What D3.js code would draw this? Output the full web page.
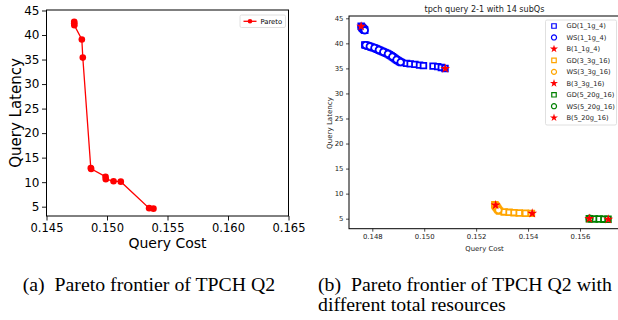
<!DOCTYPE html>
<html>
<head>
<meta charset="utf-8">
<script src="https://cdn.jsdelivr.net/npm/d3@7"></script>
<style>
  html, body { margin: 0; padding: 0; background: #fff; }
  svg { display: block; }
</style>
</head>
<body>
<div id="chart"></div>
<script>
// (a) Pareto frontier
const paretoCost = [0.14729, 0.14729, 0.14730, 0.14792, 0.14800, 0.14866, 0.14869, 0.14988, 0.14990, 0.15054, 0.15114, 0.15348, 0.15384];
const paretoLatency = [42.7, 42.4, 42.0, 39.1, 35.4, 12.9, 12.7, 11.1, 10.6, 10.2, 10.1, 4.7, 4.6];
const leftXTicks = [0.145, 0.150, 0.155, 0.160, 0.165];
const leftYTicks = [5, 10, 15, 20, 25, 30, 35, 40, 45];

// (b) different total resources: [cost, latency]
const gd1 = [[0.14757, 43.4], [0.14759, 43.25], [0.14761, 43.1], [0.14763, 43.0], [0.14765, 42.9], [0.14767, 42.8], [0.14769, 42.7], [0.14771, 42.6],
  [0.14771, 39.7], [0.14775, 39.65], [0.14778, 39.6], [0.14782, 39.5], [0.14786, 39.45], [0.14790, 39.4], [0.14794, 39.3], [0.14798, 39.25],
  [0.14803, 39.15], [0.14807, 39.1], [0.14812, 39.0], [0.14816, 38.9], [0.14820, 38.8], [0.14825, 38.7], [0.14829, 38.6], [0.14833, 38.5],
  [0.14838, 38.4], [0.14842, 38.3], [0.14847, 38.2], [0.14851, 38.1], [0.14856, 38.0], [0.14860, 37.9], [0.14865, 37.75], [0.14869, 37.6],
  [0.14873, 37.5], [0.14877, 37.35], [0.14881, 37.2], [0.14885, 37.05], [0.14889, 36.9], [0.14893, 36.75], [0.14897, 36.6], [0.14901, 36.5],
  [0.14905, 36.35], [0.14909, 36.25], [0.14913, 36.15],
  [0.14932, 36.0], [0.14946, 35.9], [0.14964, 35.8], [0.14982, 35.65], [0.14997, 35.55],
  [0.15034, 35.45], [0.15052, 35.35], [0.15066, 35.2], [0.15080, 35.0]];
const ws1 = [[0.14758, 43.3], [0.14765, 42.9], [0.14771, 42.6], [0.14774, 39.65], [0.14790, 39.4],
  [0.14808, 39.1], [0.14825, 38.7], [0.14842, 38.3], [0.14860, 37.9], [0.14877, 37.35], [0.14893, 36.75], [0.14909, 36.25]];
const b1 = [[0.14757, 43.4], [0.15081, 34.95]];
const gd3 = [[0.15272, 7.8], [0.15274, 7.65], [0.15275, 7.55], [0.15277, 7.45], [0.15278, 7.35], [0.15280, 7.2], [0.15282, 7.05], [0.15284, 6.9], [0.15286, 6.75],
  [0.15290, 6.55], [0.15308, 6.35], [0.15327, 6.27], [0.15346, 6.2], [0.15366, 6.14], [0.15390, 6.08], [0.15413, 6.06]];
const ws3 = [[0.15273, 7.7], [0.15279, 7.3], [0.15286, 6.7]];
const b3 = [[0.15275, 7.7], [0.15416, 6.05]];
const gd5 = [[0.15636, 5.0], [0.15655, 4.95], [0.15674, 4.93], [0.15692, 4.9], [0.15708, 4.88]];
const ws5 = [[0.15637, 5.0]];
const b5 = [[0.15636, 5.0], [0.15709, 4.87]];
const rightXTicks = [0.148, 0.150, 0.152, 0.154, 0.156];
const rightYTicks = [5, 10, 15, 20, 25, 30, 35, 40, 45];
const legendLabels = ['GD(1_1g_4)', 'WS(1_1g_4)', 'B(1_1g_4)', 'GD(3_3g_16)', 'WS(3_3g_16)', 'B(3_3g_16)', 'GD(5_20g_16)', 'WS(5_20g_16)', 'B(5_20g_16)'];

const svg = d3.select('#chart').append('svg')
  .attr('width', 618).attr('height', 320);

const font = 'DejaVu Sans, sans-serif';

// ---------- left chart ----------
const lx = d3.scaleLinear().domain([0.145, 0.165]).range([46.5, 288.5]);
const ly = d3.scaleLinear().domain([3.1, 45.1]).range([216, 10]);

const left = svg.append('g');

left.append('g')
  .attr('transform', 'translate(0,216)')
  .call(d3.axisBottom(lx).tickValues(leftXTicks).tickFormat(d3.format('.3f')).tickSize(4.5).tickPadding(3))
  .call(g => g.select('.domain').remove())
  .call(g => g.selectAll('.tick line').attr('stroke', '#000').attr('stroke-width', 0.9))
  .call(g => g.selectAll('.tick text').attr('fill', '#000').style('font-family', font).style('font-size', '11.5px'));

left.append('g')
  .attr('transform', 'translate(46.5,0)')
  .call(d3.axisLeft(ly).tickValues(leftYTicks).tickSize(4.5).tickPadding(2.5))
  .call(g => g.select('.domain').remove())
  .call(g => g.selectAll('.tick line').attr('stroke', '#000').attr('stroke-width', 0.9))
  .call(g => g.selectAll('.tick text').attr('fill', '#000').style('font-family', font).style('font-size', '12px'));

left.append('rect')
  .attr('x', 46.5).attr('y', 10).attr('width', 242).attr('height', 206)
  .attr('fill', 'none').attr('stroke', '#000').attr('stroke-width', 1);

const pareto = paretoCost.map((c, i) => ({ c, l: paretoLatency[i] }));

left.append('path').datum(pareto)
  .attr('fill', 'none').attr('stroke', '#ff0000').attr('stroke-width', 1.3)
  .attr('d', d3.line().x(d => lx(d.c)).y(d => ly(d.l)));

left.selectAll('.pt').data(pareto).enter().append('circle')
  .attr('cx', d => lx(d.c)).attr('cy', d => ly(d.l)).attr('r', 3.3)
  .attr('fill', '#ff0000');

left.append('text')
  .attr('x', 167.5).attr('y', 248).attr('text-anchor', 'middle')
  .style('font-family', font).style('font-size', '14px')
  .text('Query Cost');

left.append('text')
  .attr('transform', 'translate(21,113) rotate(-90)').attr('text-anchor', 'middle')
  .style('font-family', font).style('font-size', '15px')
  .text('Query Latency');

const lleg = left.append('g').attr('transform', 'translate(240,15)');
lleg.append('rect').attr('width', 45.5).attr('height', 12.5).attr('rx', 1.5)
  .attr('fill', '#fff').attr('stroke', '#d8d8d8').attr('stroke-width', 0.8);
lleg.append('line').attr('x1', 3.5).attr('x2', 16.5).attr('y1', 6.3).attr('y2', 6.3)
  .attr('stroke', '#ff0000').attr('stroke-width', 1.3);
lleg.append('circle').attr('cx', 10).attr('cy', 6.3).attr('r', 2.3).attr('fill', '#ff0000');
lleg.append('text').attr('x', 20.5).attr('y', 8.7)
  .style('font-family', font).style('font-size', '6.8px').text('Pareto');

// ---------- right chart ----------
const rx = d3.scaleLinear().domain([0.147102, 0.157542]).range([349, 620]);
const ry = d3.scaleLinear().domain([3.0, 45.46]).range([228.7, 16]);

const right = svg.append('g');

right.append('g')
  .attr('transform', 'translate(0,228.7)')
  .call(d3.axisBottom(rx).tickValues(rightXTicks).tickFormat(d3.format('.3f')).tickSize(3).tickPadding(2.5))
  .call(g => g.select('.domain').remove())
  .call(g => g.selectAll('.tick line').attr('stroke', '#000').attr('stroke-width', 0.7))
  .call(g => g.selectAll('.tick text').attr('fill', '#222').style('font-family', font).style('font-size', '6.9px'));

right.append('g')
  .attr('transform', 'translate(349,0)')
  .call(d3.axisLeft(ry).tickValues(rightYTicks).tickSize(3).tickPadding(2.5))
  .call(g => g.select('.domain').remove())
  .call(g => g.selectAll('.tick line').attr('stroke', '#000').attr('stroke-width', 0.7))
  .call(g => g.selectAll('.tick text').attr('fill', '#222').style('font-family', font).style('font-size', '6.9px'));

right.append('rect')
  .attr('x', 349).attr('y', 16).attr('width', 280).attr('height', 212.7)
  .attr('fill', 'none').attr('stroke', '#000').attr('stroke-width', 1);

right.append('text')
  .attr('x', 484.5).attr('y', 12).attr('text-anchor', 'middle')
  .style('font-family', font).style('font-size', '8.1px').attr('fill', '#222')
  .text('tpch query 2-1 with 14 subQs');

right.append('text')
  .attr('x', 484.5).attr('y', 250.5).attr('text-anchor', 'middle')
  .style('font-family', font).style('font-size', '6.9px').attr('fill', '#222')
  .text('Query Cost');

right.append('text')
  .attr('transform', 'translate(332,123) rotate(-90)').attr('text-anchor', 'middle')
  .style('font-family', font).style('font-size', '7.1px').attr('fill', '#222')
  .text('Query Latency');

const sq = d3.symbol().type(d3.symbolSquare).size(32);
const circ = d3.symbol().type(d3.symbolCircle).size(32);
const star = d3.symbol().type(d3.symbolStar).size(30);

function drawSet(data, sym, color, hollow) {
  right.append('g').selectAll('path').data(data).enter().append('path')
    .attr('transform', d => `translate(${rx(d[0])},${ry(d[1])})`)
    .attr('d', sym)
    .attr('fill', hollow ? '#fff' : color)
    .attr('stroke', hollow ? color : 'none')
    .attr('stroke-width', 1.8);
}

drawSet(gd1, sq, '#0000ff', true);
drawSet(ws1, circ, '#0000ff', true);
drawSet(gd3, sq, '#ffa500', true);
drawSet(ws3, circ, '#ffa500', true);
drawSet(gd5, sq, '#008000', true);
drawSet(ws5, circ, '#008000', true);
drawSet(b1, star, '#ff0000', false);
drawSet(b3, star, '#ff0000', false);
drawSet(b5, star, '#ff0000', false);

const legendColors = ['#0000ff', '#0000ff', '#ff0000', '#ffa500', '#ffa500', '#ff0000', '#008000', '#008000', '#ff0000'];
const legendSyms = ['sq', 'circ', 'star', 'sq', 'circ', 'star', 'sq', 'circ', 'star'];
const symMap = {
  sq: d3.symbol().type(d3.symbolSquare).size(20),
  circ: d3.symbol().type(d3.symbolCircle).size(20),
  star: d3.symbol().type(d3.symbolStar).size(20)
};

const rleg = right.append('g').attr('transform', 'translate(545.5,20)');
rleg.append('rect').attr('width', 71).attr('height', 105).attr('rx', 1.5)
  .attr('fill', '#fff').attr('stroke', '#d8d8d8').attr('stroke-width', 0.8);

const legRow = d3.scaleLinear().domain([0, 8]).range([6, 97.7]);
legendLabels.forEach((lab, i) => {
  const sym = legendSyms[i];
  rleg.append('path')
    .attr('transform', `translate(8.5,${legRow(i)})`)
    .attr('d', symMap[sym])
    .attr('fill', sym === 'star' ? legendColors[i] : '#fff')
    .attr('stroke', sym === 'star' ? 'none' : legendColors[i])
    .attr('stroke-width', 1.2);
  rleg.append('text')
    .attr('x', 21).attr('y', legRow(i) + 2.4)
    .style('font-family', font).style('font-size', '6.7px').attr('fill', '#222')
    .text(lab);
});

// ---------- captions ----------
const serif = 'Liberation Serif, DejaVu Serif, serif';
function caption(x, y, str) {
  const t = svg.append('text').attr('x', x).attr('y', y)
    .style('font-family', serif).style('font-size', '18px')
    .style('white-space', 'pre')
    .text(str);
  const w = t.node().getComputedTextLength();
  t.attr('textLength', w * 1.1).attr('lengthAdjust', 'spacingAndGlyphs');
}
caption(22.7, 290.8, '(a)  Pareto frontier of TPCH Q2');
caption(318, 290.8, '(b)  Pareto frontier of TPCH Q2 with');
caption(318, 311, 'different total resources');
</script>
</body>
</html>
